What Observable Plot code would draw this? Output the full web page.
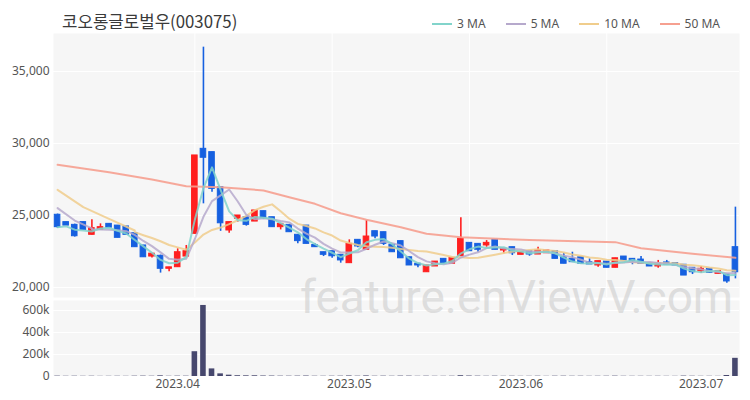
<!DOCTYPE html>
<html><head><meta charset="utf-8">
<script src="https://cdn.jsdelivr.net/npm/d3@7"></script>
<script src="https://cdn.jsdelivr.net/npm/@observablehq/plot@0.6"></script>
<style>
body{margin:0;background:#fff;font-family:"Noto Sans CJK KR","Noto Sans",sans-serif;}
#wrap{position:relative;width:750px;height:400px;overflow:hidden;background:#fff;}
#title{position:absolute;left:62px;top:9px;font-size:16.8px;color:#3a3a3a;white-space:nowrap;}
#legend{position:absolute;top:15px;right:30px;display:flex;gap:20px;font-size:12px;color:#555;font-family:"Noto Sans",sans-serif;}
#legend .it{display:flex;align-items:center;}
#legend .ln{display:inline-block;width:20px;height:2px;margin-right:5px;}
#price{position:absolute;left:0;top:33px;}
#vol{position:absolute;left:0;top:297px;}
#wm{position:absolute;left:0;top:0;pointer-events:none;}
</style></head>
<body><div id="wrap">
<div id="title"></div>
<div id="legend"></div>
<div id="price"></div>
<div id="vol"></div>
<svg id="wm" width="750" height="400"><text x="300" y="313" font-family="Roboto" font-size="46" fill="#c8c8c8" fill-opacity="0.55">feature.enViewV.com</text></svg>
</div>
<script>
const titleText = "코오롱글로벌우(003075)";
const dates = [
"2023-03-14","2023-03-15","2023-03-16","2023-03-17","2023-03-20","2023-03-21","2023-03-22","2023-03-23","2023-03-24","2023-03-27","2023-03-28","2023-03-29","2023-03-30","2023-03-31",
"2023-04-03","2023-04-04","2023-04-05","2023-04-06","2023-04-07","2023-04-10","2023-04-11","2023-04-12","2023-04-13","2023-04-14","2023-04-17","2023-04-18","2023-04-19","2023-04-20","2023-04-21","2023-04-24","2023-04-25","2023-04-26","2023-04-27","2023-04-28",
"2023-05-02","2023-05-03","2023-05-04","2023-05-08","2023-05-09","2023-05-10","2023-05-11","2023-05-12","2023-05-15","2023-05-16","2023-05-17","2023-05-18","2023-05-19","2023-05-22","2023-05-23","2023-05-24","2023-05-25","2023-05-26","2023-05-30","2023-05-31",
"2023-06-01","2023-06-02","2023-06-05","2023-06-07","2023-06-08","2023-06-09","2023-06-12","2023-06-13","2023-06-14","2023-06-15","2023-06-16","2023-06-19","2023-06-20","2023-06-21","2023-06-22","2023-06-23","2023-06-26","2023-06-27","2023-06-28","2023-06-29","2023-06-30",
"2023-07-03","2023-07-04","2023-07-05","2023-07-06","2023-07-07"];
const open = [25050,24540,24350,24540,23660,24000,24420,24300,24240,23770,22920,22150,22200,21300,21410,22150,23730,29630,29400,26960,23960,24770,24880,24580,25300,24880,24190,24350,23660,24300,22950,22450,22520,22270,21690,23310,22620,23910,23840,22970,23220,22100,21650,21060,21460,21990,21650,22170,23100,23030,22920,23310,22570,22800,22270,22520,22290,22380,22520,22100,21990,22100,21760,21530,21800,21370,22150,21990,21940,21690,21460,21740,21690,21580,21370,21130,21300,20950,20900,22800];
const high = [25100,24540,24400,24540,24700,24420,24420,24300,24240,23770,22920,22350,22250,21400,22690,22920,29170,36690,29400,26960,24540,25000,24880,25350,25300,24880,24420,24350,23660,24300,23030,22450,22520,22270,23310,23310,24650,23910,23840,22970,23220,22100,21650,21530,21800,21990,22060,24840,23100,23030,23260,23310,22690,22800,22450,22520,22800,22570,22520,22380,22450,22100,21990,21830,21800,22030,22150,21990,22150,21690,21880,21880,21690,21580,21370,21460,21300,21130,20900,25580];
const low = [24100,24300,23500,24000,23650,24000,24150,23450,23660,22800,22100,22050,21000,21100,21400,22100,23700,25810,26620,23900,23770,24540,24260,24580,24720,24190,24000,23840,23030,23030,22800,22150,22030,21690,21690,22760,22620,23380,22920,22450,22030,21530,21370,21060,21460,21650,21650,22170,22520,22450,22800,22620,22340,22220,22270,22170,22290,22380,21990,21650,21760,21650,21600,21410,21370,21370,21880,21580,21650,21460,21340,21580,21530,20830,20900,20990,21020,20950,20300,20600];
const close = [24190,24300,23560,24000,24120,24190,24150,23450,23660,22800,22100,22350,21300,21400,22450,22520,29170,29010,26850,24460,24540,25000,24350,25350,24810,24190,24420,23840,23220,23030,22800,22270,22170,21880,23030,22850,23540,23540,23030,22450,22030,21530,21530,21530,21800,21650,22060,23380,22520,22620,23100,22620,22690,22380,22450,22290,22570,22570,21990,21650,21760,21650,21600,21830,21370,22030,21880,21830,21650,21460,21690,21580,21530,20830,21060,21300,21020,21130,20420,21060];
const volume = [3200,2100,2600,1900,2400,1500,1800,2200,1700,2900,3400,2500,6000,2100,3100,2800,225000,645000,69000,24000,12000,7000,6000,6500,4500,4000,3000,2800,3300,4200,2500,2200,2600,3000,4800,2700,5200,2500,3100,2300,3500,3300,1900,2800,2100,2000,2400,7000,4200,3000,2200,3100,1800,2500,1700,1900,2600,1600,2800,2900,2300,2500,1800,2200,2400,3200,2100,1900,2000,1800,2100,1700,1600,3600,2400,1800,2000,1500,9000,165000];
// moving-average values (window start / 50-day line)
const ma5HeadAt = [0,2,4];
const ma5Head = [25510,24650,24100];
const ma10HeadAt = [0,3,6,9];
const ma10Head = [26780,25580,24770,23960];
const ma50At = [0,6,11,15,19,24,27,30,33,36,40,43,47,55,65,68,74,79];
const ma50 = [28520,28010,27500,27030,26970,26740,26270,25810,25160,24700,24190,23730,23490,23300,23150,22730,22340,22060];
const seriesNames = ["3 MA","5 MA","10 MA","50 MA"];
const seriesColors = ["#82d4cb","#b6a9cc","#f0cd8c","#f6a090"];
const priceTicks = [20000,25000,30000,35000];
const volTicks = [0,200000,400000,600000];
const xTickDates = ["2023-04-03","2023-05-02","2023-06-01","2023-07-03"];
const xTickLabels = ["2023.04","2023.05","2023.06","2023.07"];
const vGridAt = [16,32,48,64];

const UP = "#ff1f1f", DOWN = "#1660e0";
const candles = dates.map((d,i)=>({date:d, open:open[i], high:high[i], low:low[i], close:close[i], volume:volume[i]}));
const head5 = ma5HeadAt.map((i,k)=>({date:dates[i], v:ma5Head[k]}));
const head10 = ma10HeadAt.map((i,k)=>({date:dates[i], v:ma10Head[k]}));
const line50 = ma50At.map((i,k)=>({date:dates[i], v:ma50[k]}));

document.getElementById("title").textContent = titleText;
const leg = document.getElementById("legend");
seriesNames.forEach((n,i)=>{
  const it = document.createElement("div"); it.className="it";
  const ln = document.createElement("span"); ln.className="ln"; ln.style.background=seriesColors[i];
  const tx = document.createElement("span"); tx.textContent=n;
  it.appendChild(ln); it.appendChild(tx); leg.appendChild(it);
});

const xBand = {type:"band", domain:dates, paddingInner:0.35, paddingOuter:0.15};
const font = {fontFamily:"'Noto Sans', sans-serif", fontSize:"12px", color:"#555", background:"transparent", overflow:"visible"};
const isUp = d => d.close >= d.open;
const isDown = d => d.close < d.open;

const price = Plot.plot({
  width:750, height:266, marginLeft:53, marginRight:11, marginTop:0, marginBottom:2,
  style:font,
  x:{...xBand, axis:null},
  y:{domain:[19306,37639], ticks:priceTicks, tickFormat:d3.format(","), tickSize:0, tickPadding:4, label:null},
  marks:[
    Plot.frame({fill:"#f6f6f6", stroke:null}),
    Plot.ruleY(priceTicks, {stroke:"#fff", strokeWidth:1}),
    Plot.ruleX(vGridAt.map(i=>dates[i]), {stroke:"#fff", strokeWidth:1}),
    Plot.ruleX(candles, {filter:isUp, x:"date", y1:"low", y2:"high", stroke:UP, strokeWidth:1.6}),
    Plot.ruleX(candles, {filter:isDown, x:"date", y1:"low", y2:"high", stroke:DOWN, strokeWidth:1.6}),
    Plot.barY(candles, {filter:isUp, x:"date", y1:"open", y2:"close", fill:UP, stroke:UP, strokeWidth:1}),
    Plot.barY(candles, {filter:isDown, x:"date", y1:"open", y2:"close", fill:DOWN, stroke:DOWN, strokeWidth:1}),
    Plot.line(line50, {x:"date", y:"v", stroke:seriesColors[3], strokeWidth:2, strokeOpacity:0.9}),
    Plot.line(head10, {x:"date", y:"v", stroke:seriesColors[2], strokeWidth:2, strokeOpacity:0.85}),
    Plot.lineY(candles, Plot.windowY({k:10, anchor:"end", strict:true}, {x:"date", y:"close", stroke:seriesColors[2], strokeWidth:2, strokeOpacity:0.85})),
    Plot.line(head5, {x:"date", y:"v", stroke:seriesColors[1], strokeWidth:2, strokeOpacity:0.85}),
    Plot.lineY(candles, Plot.windowY({k:5, anchor:"end", strict:true}, {x:"date", y:"close", stroke:seriesColors[1], strokeWidth:2, strokeOpacity:0.85})),
    Plot.lineY(candles, Plot.windowY({k:3, anchor:"end", strict:false}, {x:"date", y:"close", stroke:seriesColors[0], strokeWidth:2, strokeOpacity:0.85}))
  ]
});
document.getElementById("price").appendChild(price);

const vol = Plot.plot({
  width:750, height:103, marginLeft:53, marginRight:11, marginTop:3, marginBottom:24,
  style:font,
  x:{...xBand, ticks:xTickDates, tickFormat:d=>xTickLabels[xTickDates.indexOf(d)], tickSize:0, tickPadding:3, label:null},
  y:{domain:[0,690000], ticks:volTicks, tickFormat:d3.format("~s"), tickSize:0, tickPadding:4, label:null},
  marks:[
    Plot.frame({fill:"#f6f6f6", stroke:null}),
    Plot.ruleY(volTicks, {stroke:"#fff", strokeWidth:1}),
    Plot.barY(candles, {x:"date", y:"volume", fill:"#46476d"})
  ]
});
document.getElementById("vol").appendChild(vol);
</script>
</body></html>
